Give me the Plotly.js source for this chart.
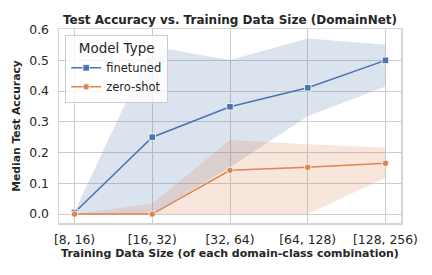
<!DOCTYPE html>
<html><head><meta charset="utf-8">
<script src="https://cdn.plot.ly/plotly-3.0.1.min.js"></script>
<style>html,body{margin:0;padding:0;background:#fff}#chart{width:432px;height:275px}</style>
</head><body><div id="chart"></div>
<script>
const categories = ["[8, 16)", "[16, 32)", "[32, 64)", "[64, 128)", "[128, 256)"];
const finetunedMedian = [0.005, 0.25, 0.349, 0.411, 0.5];
const finetunedUpper = [0.008, 0.545, 0.501, 0.571, 0.551];
const finetunedLower = [0.0, 0.0, 0.152, 0.318, 0.415];
const zeroShotMedian = [0.0, 0.0, 0.1425, 0.152, 0.165];
const zeroShotUpper = [0.0, 0.034, 0.241, 0.227, 0.216];
const zeroShotLower = [0.0, 0.0, 0.0, 0.0, 0.118];
const yTicks = [0.0, 0.1, 0.2, 0.3, 0.4, 0.5, 0.6];

const blue = '#4c72b0', orange = '#dd8452';
const revCats = categories.slice().reverse();
function band(upper, lower, color) {
  return {x: categories.concat(revCats), y: upper.concat(lower.slice().reverse()),
    type: 'scatter', mode: 'lines', fill: 'toself', fillcolor: color,
    line: {width: 0}, hoverinfo: 'skip', showlegend: false};
}
const traces = [
  band(finetunedUpper, finetunedLower, 'rgba(76,114,176,0.2)'),
  band(zeroShotUpper, zeroShotLower, 'rgba(221,132,82,0.2)'),
  {x: categories, y: finetunedMedian, type: 'scatter', mode: 'lines+markers', name: 'finetuned',
   line: {color: blue, width: 1.5}, marker: {symbol: 'square', size: 6.5, color: blue, line: {color: '#fff', width: 0.8}}},
  {x: categories, y: zeroShotMedian, type: 'scatter', mode: 'lines+markers', name: 'zero-shot',
   line: {color: orange, width: 1.5}, marker: {symbol: 'circle', size: 6.5, color: orange, line: {color: '#fff', width: 0.8}}}
];
const font = 'DejaVu Sans, sans-serif';
const layout = {
  width: 432, height: 275,
  margin: {l: 59, r: 31, t: 29, b: 52},
  paper_bgcolor: '#fff', plot_bgcolor: '#fff',
  font: {family: font, color: '#262626', size: 12},
  title: {text: '<b>Test Accuracy vs. Training Data Size (DomainNet)</b>', font: {size: 12, color: '#262626'},
          x: 0.5, xref: 'paper', y: 1, yref: 'paper', yanchor: 'bottom', pad: {b: 5}},
  xaxis: {type: 'category', categoryorder: 'array', categoryarray: categories, range: [-0.2, 4.2],
          showgrid: true, gridcolor: '#cccccc', gridwidth: 1, showline: true, mirror: true,
          linecolor: '#d5d5d5', linewidth: 1.5, ticks: '', zeroline: false, ticklabelstandoff: 5,
          tickfont: {size: 12.4},
          title: {text: '<b>Training Data Size (of each domain-class combination)</b>', font: {size: 11}, standoff: 3}},
  yaxis: {range: [-0.029, 0.602], tickvals: yTicks, ticktext: yTicks.map(v => v.toFixed(1)),
          showgrid: true, gridcolor: '#cccccc', gridwidth: 1, showline: true, mirror: true,
          linecolor: '#d5d5d5', linewidth: 1.5, ticks: '', zeroline: false, tickfont: {size: 12.4},
          ticklabelstandoff: 6,
          title: {text: '<b>Median Test Accuracy</b>', font: {size: 10.8}, standoff: 6}},
  legend: {x: 0.018, y: 0.97, xanchor: 'left', yanchor: 'top', bgcolor: 'rgba(255,255,255,0.8)',
           bordercolor: '#cccccc', borderwidth: 1, font: {size: 11.5},
           title: {text: 'Model Type', side: 'top center', font: {size: 13.5}}, tracegroupgap: 0, itemwidth: 30},
  showlegend: true
};
Plotly.newPlot('chart', traces, layout, {staticPlot: true, displayModeBar: false});
</script></body></html>
